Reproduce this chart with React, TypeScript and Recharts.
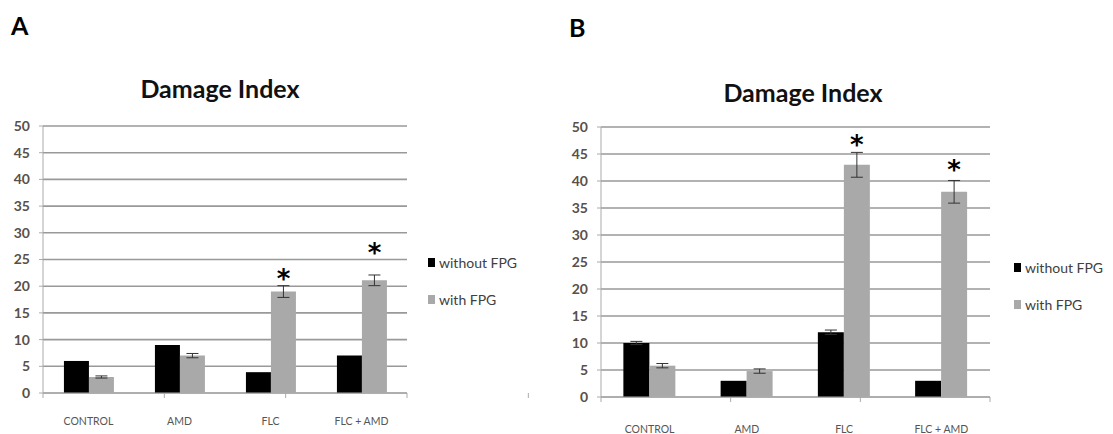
import React from 'react';
import {
  BarChart,
  Bar,
  XAxis,
  YAxis,
  CartesianGrid,
  ErrorBar,
  LabelList,
  Legend,
} from 'recharts';

// categories and values
const categories = ['CONTROL', 'AMD', 'FLC', 'FLC + AMD'];
const yTicks = [0, 5, 10, 15, 20, 25, 30, 35, 40, 45, 50];
const edgeTicks = [0, 1, 2, 3, 4];
const seriesOrder = ['without', 'with'];

const withoutA = [6, 9, 3.9, 7];
const withoutErrA = [0, 0, 0, 0];
const withA = [3, 7, 19, 21.1];
const withErrA = [0.2, 0.4, 1.1, 1];
const starA = [null, null, 22.1, 27];

const withoutB = [10, 3, 12, 3];
const withoutErrB = [0.3, 0, 0.4, 0];
const withB = [5.8, 4.8, 43, 38];
const withErrB = [0.4, 0.4, 2.3, 2.1];
const starB = [null, null, 47.5, 42.7];

const FONT = 'Lato, "Open Sans", sans-serif';
const GRAY = '#a9a9a9';

type Row = {
  name: string;
  without: number;
  withoutErr: number;
  with: number;
  withErr: number;
  star: number | null;
};

const buildRows = (
  wo: number[],
  woErr: number[],
  w: number[],
  wErr: number[],
  star: (number | null)[]
): Row[] =>
  categories.map((name, i) => ({
    name,
    without: wo[i],
    withoutErr: woErr[i],
    with: w[i],
    withErr: wErr[i],
    star: star[i],
  }));

const dataA = buildRows(withoutA, withoutErrA, withA, withErrA, starA);
const dataB = buildRows(withoutB, withoutErrB, withB, withErrB, starB);

// legend drawn as a small list with square swatches, series order kept
const renderLegend = (props: any) => {
  const items = [...(props.payload || [])].sort(
    (a: any, b: any) => seriesOrder.indexOf(a.dataKey) - seriesOrder.indexOf(b.dataKey)
  );
  return (
    <div style={{ fontFamily: FONT, fontSize: 14, color: '#404040' }}>
      {items.map((it: any) => (
        <div
          key={it.value}
          style={{ display: 'flex', alignItems: 'center', height: 37 }}
        >
          <span
            style={{
              display: 'inline-block',
              width: 7,
              height: 9,
              background: it.color,
              marginRight: 4,
            }}
          />
          {it.value}
        </div>
      ))}
    </div>
  );
};

interface PanelProps {
  data: Row[];
  width: number;
  margin: { top: number; right: number; bottom: number; left: number };
  labelMargin: number;
  legendPos: { left: number; top: number };
}

const Panel: React.FC<PanelProps> = ({ data, width, margin, labelMargin, legendPos }) => {
  // asterisk placed at its own level, using the bar geometry for the scale
  const StarLabel = (p: any) => {
    const vb = p.viewBox || p;
    if (p.value == null || p.index == null) return null;
    const row = data[p.index];
    const pxPerUnit = vb.height / row.with;
    const base = vb.y + vb.height;
    const cy = base - p.value * pxPerUnit;
    return (
      <text
        x={vb.x + vb.width / 2}
        y={cy + 13}
        textAnchor="middle"
        fontFamily="DejaVu Sans"
        fontWeight="bold"
        fontSize={26}
        fill="#000"
      >
        *
      </text>
    );
  };

  return (
    <BarChart
      width={width}
      height={434}
      data={data}
      margin={margin}
      barCategoryGap="23%"
      barGap={0}
    >
      <CartesianGrid xAxisId="cat" vertical={false} stroke="#999" strokeWidth={1.6} />
      {/* boundary ticks between categories, drawn on the zero line */}
      <XAxis
        type="number"
        domain={[0, 4]}
        ticks={edgeTicks}
        tickFormatter={() => ''}
        tickSize={5}
        height={8}
        stroke="#aaa"
        allowDataOverflow
      />
      <XAxis
        xAxisId="cat"
        dataKey="name"
        axisLine={false}
        tickLine={false}
        height={26}
        tickMargin={labelMargin}
        interval={0}
        tick={{ fontSize: 10.5, fill: '#555', fontFamily: FONT }}
      />
      <YAxis
        domain={[0, 50]}
        ticks={yTicks}
        width={30}
        tickSize={4}
        tickMargin={9}
        stroke="#aaa"
        tick={{ fontSize: 14, fill: '#5a5048', fontFamily: FONT, fontWeight: 700 }}
      />
      <Legend
        layout="vertical"
        align="center"
        verticalAlign="middle"
        wrapperStyle={{ left: legendPos.left, top: legendPos.top, width: 'auto' }}
        content={renderLegend}
      />
      <Bar xAxisId="cat" dataKey="without" name="without FPG" fill="#000" isAnimationActive={false}>
        <ErrorBar dataKey="withoutErr" width={6} stroke="#333" strokeWidth={1} />
      </Bar>
      <Bar xAxisId="cat" dataKey="with" name="with FPG" fill={GRAY} isAnimationActive={false}>
        <ErrorBar dataKey="withErr" width={6} stroke="#333" strokeWidth={1} />
        <LabelList dataKey="star" content={StarLabel} />
      </Bar>
    </BarChart>
  );
};

const titleStyle: React.CSSProperties = {
  position: 'absolute',
  width: 300,
  textAlign: 'center',
  fontFamily: FONT,
  fontWeight: 700,
  fontSize: 25,
  lineHeight: '30px',
  color: '#111',
};

const letterStyle: React.CSSProperties = {
  position: 'absolute',
  fontFamily: FONT,
  fontWeight: 700,
  fontSize: 25,
  lineHeight: '28px',
  color: '#000',
};

export default function App() {
  return (
    <div
      style={{
        position: 'fixed',
        left: 0,
        top: 0,
        width: 1113,
        height: 434,
        background: '#fff',
        overflow: 'hidden',
      }}
    >
      <div style={{ position: 'absolute', left: 0, top: 0, width: 555, height: 434, overflow: 'hidden' }}>
        <Panel
          data={dataA}
          width={555}
          margin={{ top: 126, right: 148, bottom: 7, left: 13 }}
          labelMargin={11}
          legendPos={{ left: 428, top: 244 }}
        />
      </div>
      <div style={{ position: 'absolute', left: 555, top: 0 }}>
        <Panel
          data={dataB}
          width={558}
          margin={{ top: 127, right: 123, bottom: 3, left: 16 }}
          labelMargin={15}
          legendPos={{ left: 459, top: 249 }}
        />
      </div>
      <div style={{ ...letterStyle, left: 11, top: 11 }}>A</div>
      <div style={{ ...letterStyle, left: 569, top: 13 }}>B</div>
      <div style={{ ...titleStyle, left: 70, top: 73 }}>Damage Index</div>
      <div style={{ ...titleStyle, left: 653, top: 77 }}>Damage Index</div>
    </div>
  );
}
